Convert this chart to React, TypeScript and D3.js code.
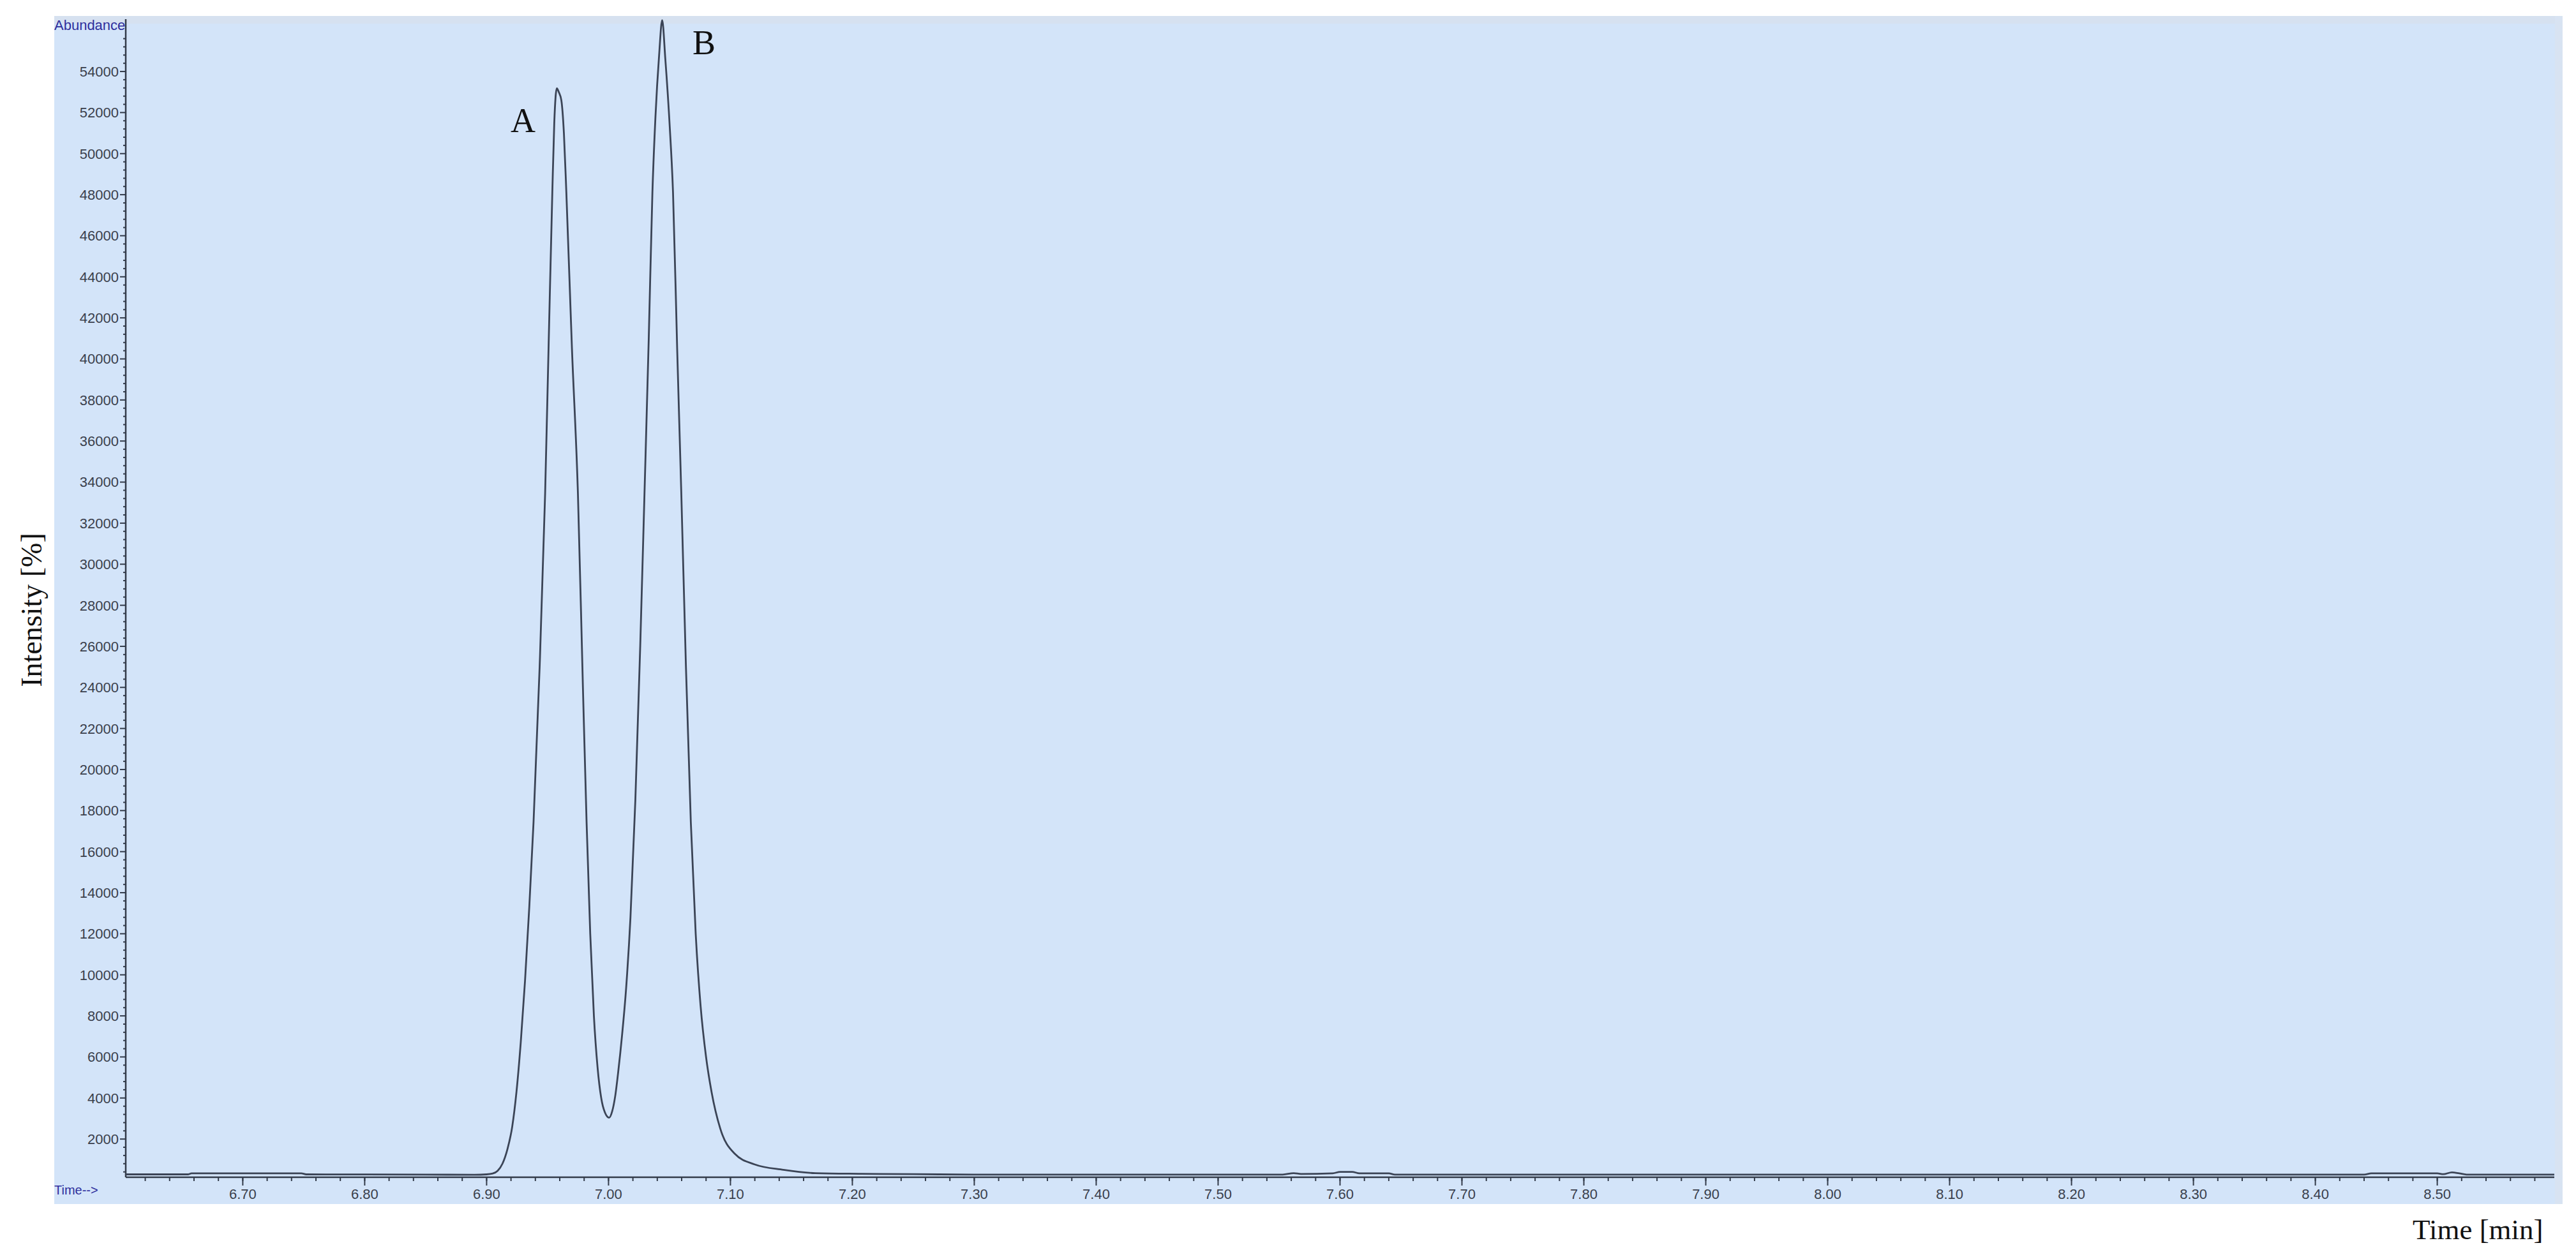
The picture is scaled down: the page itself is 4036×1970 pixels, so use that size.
import React from "react";
import * as d3 from "d3";

const times = [
  6.604, 6.655, 6.658, 6.748, 6.752, 6.85, 6.89, 6.9, 6.905, 6.909, 6.913, 6.917, 6.921, 6.9245, 6.928,
  6.9315, 6.935, 6.9385, 6.9435, 6.948, 6.951, 6.9539, 6.9555, 6.9576, 6.9592, 6.9613, 6.9634, 6.9654,
  6.97, 6.9749, 6.979, 6.982, 6.985, 6.988, 6.991, 6.994, 6.997, 7.0005, 7.003, 7.0055, 7.008, 7.011,
  7.0145, 7.018, 7.022, 7.026, 7.0295, 7.033, 7.036, 7.0385, 7.0415, 7.044, 7.0466, 7.0503, 7.0529,
  7.0563, 7.0597, 7.0635, 7.0675, 7.0715, 7.0755, 7.08, 7.0845, 7.0916, 7.1036, 7.1196, 7.1435, 7.1696,
  7.207, 7.25, 7.3,
  7.553, 7.562, 7.568, 7.594, 7.6, 7.61, 7.616, 7.64, 7.645, 8.44, 8.446, 8.5, 8.505, 8.512, 8.518, 8.524, 8.596,
];
const abundance = [
  280, 280, 330, 330, 280, 270, 260, 280, 320, 450, 800, 1490, 2600, 4300, 6700,
  9700, 13300, 17440, 25000, 33440, 41000, 48110, 51500, 53180, 53000, 52600, 51000, 48110,
  40500, 33440, 24000, 17440, 12000, 8000, 5500, 4000, 3300, 3040, 3350, 4100, 5300, 7000,
  9400, 12800, 18500, 26000, 33440, 41000, 48110, 51800, 54800, 56500, 54600, 51220, 48110,
  40500, 33440, 25000, 17440, 12000, 8500, 6000, 4300, 2520, 1280, 770, 500, 340,
  310, 290, 270,
  270, 340, 300, 330, 400, 400, 330, 330, 270, 270, 330, 330, 290, 380, 330, 270, 270,
];

const yMajorTicks = d3.range(2000, 54001, 2000);
const yMinorTicks = d3.range(400, 56001, 400).filter((v) => v % 2000 !== 0);
const xMajorTicks = d3.range(6.7, 8.5001, 0.1).map((v) => +v.toFixed(2));
const xMinorTicks = d3.range(6.62, 8.5901, 0.02).map((v) => +v.toFixed(2));

const W = 4036;
const H = 1970;
const axisLeft = 197;
const axisRight = 4002;
const axisBottom = 1845;
const plotTop = 30;

export default function App() {
  const x = d3.scaleLinear().domain([6.604, 8.596]).range([axisLeft, axisRight]);
  const y = d3.scaleLinear().domain([140, 56550]).range([axisBottom, plotTop]);
  const data = times.map((t, i) => [t, abundance[i]] as [number, number]);
  const line = d3
    .line<[number, number]>()
    .x((d) => x(d[0]))
    .y((d) => y(d[1]))
    .curve(d3.curveMonotoneX);

  const tickColor = "#333b4a";
  const labelColor = "#3a3f4c";
  const sans = "Arial, 'Liberation Sans', sans-serif";
  const serif = "'Liberation Serif', 'Times New Roman', serif";

  return (
    <svg
      width={W}
      height={H}
      style={{ position: "absolute", left: 0, top: 0, background: "#ffffff" }}
    >
      <rect x={0} y={0} width={W} height={H} fill="#ffffff" />
      <rect x={85} y={25} width={3930} height={1862} fill="#d3e4f9" />
      <rect x={85} y={25} width={3930} height={12} fill="#d6e1f0" />
      <rect x={4003} y={25} width={12} height={1862} fill="#d8e3f2" />

      {/* Y axis */}
      <line x1={axisLeft} x2={axisLeft} y1={plotTop} y2={axisBottom} stroke={tickColor} strokeWidth={2.5} />
      {yMinorTicks.map((v) => (
        <line key={"ym" + v} x1={axisLeft - 4} x2={axisLeft} y1={y(v)} y2={y(v)} stroke={tickColor} strokeWidth={2} />
      ))}
      {yMajorTicks.map((v) => (
        <g key={"yM" + v}>
          <line x1={axisLeft - 9} x2={axisLeft} y1={y(v)} y2={y(v)} stroke={tickColor} strokeWidth={2} />
          <text
            x={axisLeft - 11}
            y={y(v)}
            dy="0.36em"
            textAnchor="end"
            fontFamily={sans}
            fontSize={22}
            fill={labelColor}
          >
            {v}
          </text>
        </g>
      ))}

      {/* X axis */}
      <line x1={axisLeft} x2={axisRight} y1={axisBottom} y2={axisBottom} stroke={tickColor} strokeWidth={2.5} />
      {xMinorTicks.map((v) => (
        <line key={"xm" + v} x1={x(v)} x2={x(v)} y1={axisBottom} y2={axisBottom + 6} stroke={tickColor} strokeWidth={2} />
      ))}
      {xMajorTicks.map((v) => (
        <g key={"xM" + v}>
          <line x1={x(v)} x2={x(v)} y1={axisBottom} y2={axisBottom + 13} stroke={tickColor} strokeWidth={2} />
          <text
            x={x(v)}
            y={axisBottom + 34}
            textAnchor="middle"
            fontFamily={sans}
            fontSize={22}
            fill={labelColor}
          >
            {v.toFixed(2)}
          </text>
        </g>
      ))}

      {/* Signal */}
      <path d={line(data) || ""} fill="none" stroke="#3b4456" strokeWidth={2.8} strokeLinejoin="round" />

      {/* Labels */}
      <text x={85} y={47} fontFamily={sans} fontSize={22} fill="#2e2e9c">
        Abundance
      </text>
      <text x={85} y={1872} fontFamily={sans} fontSize={20} fill="#2e2e9c">
        Time--&gt;
      </text>
      <text x={3780} y={1942} fontFamily={serif} fontSize={45} fill="#111111">
        Time [min]
      </text>
      <text
        transform={`translate(65, 956) rotate(-90)`}
        textAnchor="middle"
        fontFamily={serif}
        fontSize={46}
        fill="#111111"
      >
        Intensity [%]
      </text>
      <text x={800} y={207} fontFamily={serif} fontSize={54} fill="#111111">
        A
      </text>
      <text x={1085} y={85} fontFamily={serif} fontSize={54} fill="#111111">
        B
      </text>
    </svg>
  );
}
